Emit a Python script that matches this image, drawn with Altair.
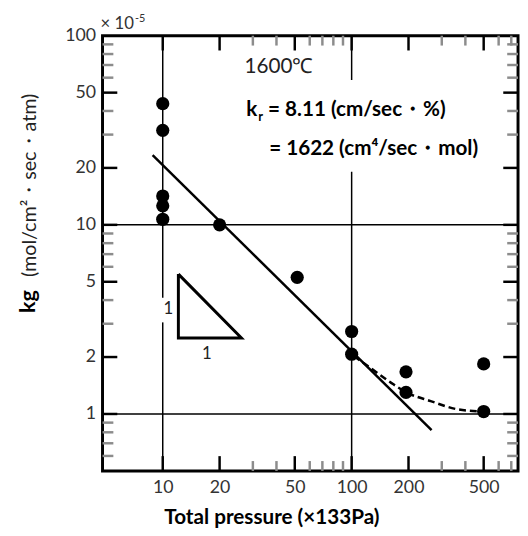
import altair as alt
import pandas as pd

# ---- data ----
pressure = [10, 10, 10, 10, 10, 20, 51.5, 100, 100, 194, 194, 500, 500]
kg_vals = [43.7, 31.6, 14.2, 12.6, 10.7, 10.0, 5.28, 2.73, 2.07, 1.67, 1.30, 1.84, 1.03]

fit_x = [8.84, 265]
fit_y = [23.4, 0.822]

curve_x = [103, 123, 162, 195, 262, 361, 497]
curve_y = [2.02, 1.78, 1.46, 1.30, 1.17, 1.06, 1.03]

tri_x = [12.1, 12.1, 26.1, 12.1]
tri_y = [5.49, 2.52, 2.52, 5.49]

x_major = [10, 20, 50, 100, 200, 500]
x_minor = [30, 40, 60, 70, 80, 90, 300, 400, 600, 700]
y_major = [1, 2, 5, 10, 20, 50]
y_minor = [0.6, 0.7, 0.8, 0.9, 3, 4, 6, 7, 8, 9, 30, 40, 60, 70, 80, 90]
y_labels = [1, 2, 5, 10, 20, 50, 100]

W, H = 422, 442
FONT = "Lato"

xs = alt.Scale(type="log", domain=[4.8, 760], nice=False)
ys = alt.Scale(type="log", domain=[0.5, 100], nice=False)

x_axis = alt.Axis(values=x_major, format="d", title=None, ticks=False, tickSize=0,
                  domain=False, grid=False, labelFont=FONT, labelFontSize=18,
                  labelColor="#333333", labelPadding=8, labelOverlap=False)
y_axis = alt.Axis(values=y_labels, format="d", title=None, ticks=False, tickSize=0,
                  domain=False, grid=False, labelFont=FONT, labelFontSize=18,
                  labelColor="#333333", labelPadding=7, labelOverlap=False)


def X(field):
    return alt.X(field, scale=xs, axis=x_axis, title=None)


def Y(field):
    return alt.Y(field, scale=ys, axis=y_axis, title=None)


# ---- layers ----
pts_df = pd.DataFrame({"x": pressure, "y": kg_vals})
points = alt.Chart(pts_df).mark_point(filled=True, color="black", size=180, opacity=1).encode(
    x=X("x:Q"), y=Y("y:Q"))

# grid lines
h_df = pd.DataFrame({"y": [10, 1]})
hgrid = alt.Chart(h_df).mark_rule(color="black", strokeWidth=1.5).encode(
    y=Y("y:Q"), x=alt.value(0), x2=alt.value(W))
v_df = pd.DataFrame({"x": [10, 10, 100, 100], "y": [100, 3.05, 100, 19.1], "y2": [4.12, 0.5, 58.3, 0.5]})
vgrid = alt.Chart(v_df).mark_rule(color="black", strokeWidth=1.5).encode(
    x=X("x:Q"), y=Y("y:Q"), y2="y2:Q")


# ticks (inward)
def xticks(vals, length, color):
    d = pd.DataFrame({"x": vals})
    base = alt.Chart(d).mark_rule(color=color, strokeWidth=2.5)
    bottom = base.encode(x=X("x:Q"), y=alt.value(H), y2=alt.value(H - length))
    top = base.encode(x=X("x:Q"), y=alt.value(0), y2=alt.value(length))
    return [bottom, top]


def yticks(vals, length, color):
    d = pd.DataFrame({"y": vals})
    base = alt.Chart(d).mark_rule(color=color, strokeWidth=2.5)
    left = base.encode(y=Y("y:Q"), x=alt.value(0), x2=alt.value(length))
    right = base.encode(y=Y("y:Q"), x=alt.value(W), x2=alt.value(W - length))
    return [left, right]


tick_layers = (xticks(x_major, 15, "black") + xticks(x_minor, 10, "#8c8c8c")
               + yticks(y_major, 15, "black") + yticks(y_minor, 11, "#8c8c8c"))

# fitted line
fit = alt.Chart(pd.DataFrame({"x": fit_x, "y": fit_y})).mark_line(color="black", strokeWidth=2.5).encode(
    x=X("x:Q"), y=Y("y:Q"))

curve = alt.Chart(pd.DataFrame({"x": curve_x, "y": curve_y})).mark_line(
    color="black", strokeWidth=2.5, strokeDash=[7, 4], interpolate="monotone").encode(
    x=X("x:Q"), y=Y("y:Q"))

tri = alt.Chart(pd.DataFrame({"x": tri_x, "y": tri_y, "o": [0, 1, 2, 3]})).mark_line(
    color="black", strokeWidth=3, strokeJoin="miter").encode(
    x=X("x:Q"), y=Y("y:Q"), order="o:O")


# annotation text in data coordinates
def dtext(x, y, s, size, weight="normal", align="left", color="black"):
    d = pd.DataFrame({"x": [x], "y": [y], "t": [s]})
    return alt.Chart(d).mark_text(font=FONT, fontSize=size, fontWeight=weight, align=align,
                                  baseline="middle", color=color).encode(
        x=X("x:Q"), y=Y("y:Q"), text="t:N")


texts = [
    dtext(27.1, 68.5, "1600℃", 21, color="#222222"),
    dtext(27.7, 40.2, "k", 21, "bold"),
    dtext(32.0, 37.0, "r", 13, "bold"),
    dtext(36.1, 40.2, "= 8.11 (cm/sec・%)", 21, "bold"),
    dtext(36.6, 25.2, "= 1622 (cm⁴/sec・mol)", 21, "bold"),
    dtext(10.7, 3.57, "1", 17, align="center", color="#222222"),
    dtext(17.1, 2.08, "1", 17, align="center", color="#222222"),
]


# text outside the plot (titles)
def ptext(x, y, s, size, weight="normal", angle=0, align="center", color="black"):
    d = pd.DataFrame({"t": [s]})
    kw = dict(font=FONT, fontSize=size, fontWeight=weight, align=align, baseline="middle", color=color)
    if angle:
        kw["angle"] = angle
    return alt.Chart(d).mark_text(**kw).encode(x=alt.value(x), y=alt.value(y), text="t:N")


outer = [
    ptext(172, 490, "Total pressure (×133Pa)", 21, "bold"),
    ptext(-76, 270, "kg", 22, "bold", angle=270),
    ptext(-74, 152, "(mol/cm²・sec・atm)", 20, angle=270, color="#222222"),
    ptext(-2, -12, "× 10", 17, align="left", color="#333333"),
    ptext(33, -17, "-5", 11, align="left", color="#333333"),
]

chart = alt.layer(
    hgrid, vgrid, *tick_layers, fit, curve, tri, points, *texts, *outer
).properties(
    width=W, height=H,
    autosize=alt.AutoSizeParams(type="none"),
    padding={"left": 96, "top": 24, "right": 2, "bottom": 64},
    background="white",
).configure(
    font=FONT,
    view=alt.ViewConfig(stroke="black", strokeWidth=3),
)

chart.save("out.html", embed_options={"renderer": "svg", "actions": False})
